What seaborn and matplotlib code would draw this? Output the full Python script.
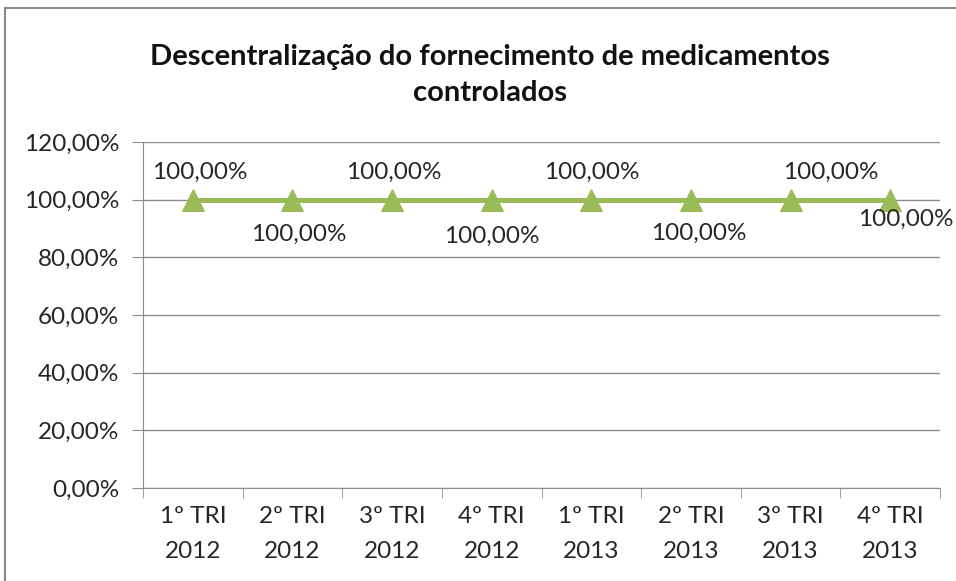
import matplotlib
matplotlib.use("Agg")
import matplotlib.pyplot as plt
import matplotlib.ticker as mticker
import seaborn as sns
import pandas as pd
from matplotlib.patches import Rectangle

# chart data
trimestres = ["1º TRI\n2012", "2º TRI\n2012", "3º TRI\n2012", "4º TRI\n2012",
              "1º TRI\n2013", "2º TRI\n2013", "3º TRI\n2013", "4º TRI\n2013"]
valores = [100.0, 100.0, 100.0, 100.0, 100.0, 100.0, 100.0, 100.0]
y_ticks = [0, 20, 40, 60, 80, 100, 120]

df = pd.DataFrame({"pos": range(len(trimestres)), "valor": valores})

sns.set_style("white")
plt.rcParams["font.family"] = ["Lato", "DejaVu Sans"]

fig = plt.figure(figsize=(9.56, 5.81), dpi=100)
ax = fig.add_axes([143 / 956, (581 - 488) / 581, (940 - 143) / 956, (488 - 142) / 581])

green = "#9BBB59"
grid_c = "#8c8c8c"
txt_c = "#262626"

sns.lineplot(data=df, x="pos", y="valor", ax=ax, color=green, linewidth=3.6,
             marker="^", markersize=16, markeredgecolor=green, markerfacecolor=green)

ax.set_xlim(-0.5, len(trimestres) - 0.5)
ax.set_ylim(0, 120)
ax.set_yticks(y_ticks)
ax.yaxis.set_major_formatter(mticker.FuncFormatter(lambda v, p: f"{v:.2f}".replace(".", ",") + "%"))
ax.set_xticks(range(len(trimestres)))
ax.set_xticklabels(trimestres, linespacing=1.8)
ax.set_xticks([i - 0.5 for i in range(len(trimestres) + 1)], minor=True)
ax.tick_params(axis="x", which="major", length=0, pad=13, labelsize=17.5, colors=txt_c)
ax.tick_params(axis="x", which="minor", length=7, color=grid_c, direction="out", bottom=True)
ax.tick_params(axis="y", length=8, color=grid_c, direction="out", left=True, labelsize=17.5,
               colors=txt_c, pad=9)
ax.set_xlabel("")
ax.set_ylabel("")
ax.grid(axis="y", color=grid_c, linewidth=1)
ax.set_axisbelow(True)
for s in ["top", "right"]:
    ax.spines[s].set_visible(False)
ax.spines["left"].set_color(grid_c)
ax.spines["bottom"].set_color(grid_c)

# data labels, placed as in the original
offsets = [(5, 19.5), (4.3, -25), (1.5, 20), (0, -26.5), (0, 20), (5.8, -24), (29, 19.5), (11.5, -14.5)]
for i, v in enumerate(valores):
    dx, dy = offsets[i]
    ax.annotate(f"{v:.2f}".replace(".", ",") + "%", (i, v), xytext=(dx, dy),
                textcoords="offset points", ha="center", va="center",
                fontsize=17.5, color=txt_c, annotation_clip=False)

fig.text(490 / 956, 1 - 75 / 581, "Descentralização do fornecimento de medicamentos\ncontrolados",
         ha="center", va="center", fontsize=21, fontweight="bold", linespacing=1.5, color="#111111")

# outer chart frame
fig.patches.append(Rectangle((5 / 956, -0.05), 2, 1 - 8 / 581 + 0.05, transform=fig.transFigure,
                             fill=False, edgecolor="#888888", linewidth=1.5))

fig.savefig("out.png", dpi=100)
